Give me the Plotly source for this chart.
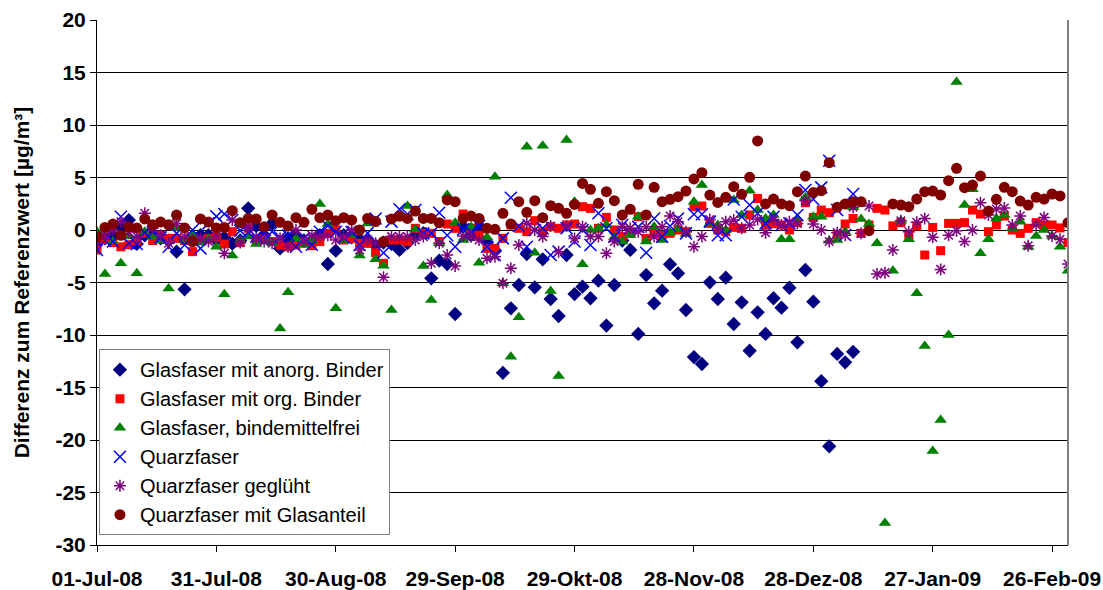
import datetime as dt
import plotly.graph_objects as go

# sampling: one measurement every 2 days starting 01-Jul-08
start = dt.date(2008, 7, 1)
days = list(range(0, 245, 2))

tick_days = [0, 30, 60, 90, 120, 150, 180, 210, 240]
tick_labels = ["01-Jul-08", "31-Jul-08", "30-Aug-08", "29-Sep-08", "29-Okt-08",
               "28-Nov-08", "28-Dez-08", "27-Jan-09", "26-Feb-09"]
y_ticks = [-30, -25, -20, -15, -10, -5, 0, 5, 10, 15, 20]

anorg_binder = [
    -1.2, -0.8, -0.5, 0.3, 0.95, -1.33, -0.5, -0.3, -0.8, -1.0, -2.06, -5.65, -1.0, -0.5, -0.5, -1.0,
    -0.7, -1.3, -1.0, 2.06, 0.38, -0.5, 0.63, -1.75, -0.8, -0.5, -1.0, -1.0, -0.5, -3.24, -1.97, -0.5,
    -0.7, -0.9, -1.0, -1.5, -1.2, -1.33, -1.9, -1.24, -0.5, -0.3, -4.6, -2.92, -3.24, -8.0, 0.29, -0.5,
    0.38, -1.2, -2.0, -13.6, -7.46, -5.24, -2.29, -5.46, -2.79, -6.57, -8.19, -2.38, -6.1, -5.4, -6.5,
    -4.83, -9.1, -5.24, -1.0, -1.9, -9.9, -4.29, -6.98, -5.78, -3.27, -4.13, -7.62, -12.1, -12.76, -4.98, -6.57,
    -4.54, -8.95, -6.89, -11.5, -7.84, -9.9, -6.5, -7.4, -5.5, -10.7, -3.81, -6.83, -14.4, -20.6, -11.8, -12.6,
    -11.6] + [None] * 27

org_binder = [
    -1.9, -0.9, -1.2, -1.6, -1.4, -1.0, -0.3, -1.0, -0.5, -0.8, -0.8, -1.0, -2.06, -1.0, -0.8, -0.7,
    -1.33, -0.16, -1.2, 0.16, -0.95, -0.8, -1.1, -1.43, -1.59, -1.43, -1.1, -1.49, -1.1, -0.32, 0.0, -0.95,
    -0.8, -1.27, -1.27, -2.16, -3.17, -0.95, -0.95, -1.1, 0.16, -0.32, -0.32, -1.1, 0.57, 0.16, 1.52, 0.16,
    -0.5, -1.75, -1.75, -0.8, 0.48, 0.16, -0.16, 0.89, -0.16, 0.32, 0.16, 0.48, 0.57, 2.22, 2.06,
    0.16, 1.2, 0.0, -0.63, -0.32, 1.27, -0.8, -0.32, -0.5, -0.32, 0.0, -0.16, 2.22, 2.28, 0.63, 0.0,
    -0.16, 0.25, 0.16, 1.43, 3.0, 0.48, 0.6, 0.48, 0.0, 0.7, 2.6, 1.2, 1.9, 1.65, -0.5, 0.57,
    1.1, -0.32, 0.48, 2.06, 1.9, 0.4, 0.7, -0.5, 0.38, -2.38, 0.25, -1.97, 0.63, 0.63, 0.7, 1.9,
    1.52, -0.16, 0.48, 1.33, 0.0, -0.32, 0.16, 0.7, 0.48, 0.48, 0.2, -1.2]

bindemittelfrei = [
    -0.16, -4.19, -1.1, -3.17, -0.63, -4.13, -0.16, -0.63, -1.0, -5.56, 0.16, -1.0, -0.5, -1.2, -0.8, -1.59,
    -6.13, -2.44, -1.0, -0.63, -1.33, -1.1, -1.2, -9.37, -5.94, -0.8, -1.43, -1.0, 2.48, 0.57, -7.46, -1.0,
    -0.5, -2.44, 0.63, -2.79, -3.4, -7.62, 1.1, 2.28, 0.06, -3.43, -6.67, -1.27, 3.33, 0.7, -0.95, 0.32,
    -3.11, -0.7, 5.08, -5.08, -12.06, -8.32, 7.94, -2.16, 8.03, -5.81, -13.9, 8.57, 2.7, -3.27, 0.0,
    0.16, 0.48, -0.7, -1.1, -0.48, 1.27, -1.1, 0.32, -0.95, -0.25, 0.16, -0.38, 2.7, 4.29, 0.63, 0.48,
    0.0, 2.86, 1.43, 3.75, 1.9, 1.1, 1.43, -0.89, -0.89, 1.1, 3.11, 1.27, 1.27, -1.02, -0.95, -0.16,
    2.16, 1.05, 0.57, -1.27, -27.9, -3.87, 0.89, -0.89, -6.03, -11.05, -21.05, -18.1, -10.0, 14.1, 2.38, 3.87,
    -2.22, -0.89, 1.1, 1.43, 0.16, 0.79, -1.59, -0.57, 0.0, -0.57, -1.59, -3.87]

quarzfaser = [
    -1.9, -1.0, -1.1, 1.27, -1.27, -1.33, -0.25, -0.16, -0.7, -1.59, -0.32, -1.43, 0.0, -1.75, 0.63, 1.3,
    1.52, 0.95, -0.06, -0.2, -0.63, -0.3, -0.16, -0.7, -0.5, -1.59, -0.8, -1.4, -0.16, 0.38, -0.16, -0.7,
    -0.2, -1.43, -0.3, 1.1, -2.16, 0.8, 1.97, 1.5, 1.9, -0.32, -0.32, 1.65, -0.5, -1.59, 0.06, -0.2,
    0.38, -1.59, -2.38, -0.8, 3.08, 0.38, -1.59, 0.0, 0.16, -2.38, -2.06, 0.16, -1.1, 0.0, -1.43,
    1.59, 0.16, -0.63, 0.48, 0.16, 0.3, -2.16, 1.1, -0.63, 0.38, 1.1, -0.32, 1.5, 1.5, 0.8, -0.5,
    -0.5, 2.9, 1.27, 2.38, 1.59, 0.63, 1.27, 0.48, 0.63, 1.43, 3.81, 2.92, 4.06, 6.6, 1.9, -0.48,
    3.43] + [None] * 27

quarz_gegluet = [
    -1.27, -0.5, 0.0, 0.79, -0.16, -0.6, 1.59, 0.16, -0.5, -1.27, 0.63, -0.63, -0.95, -0.8, -1.1, -0.63,
    -2.22, 0.95, -1.2, 0.3, -0.8, -1.1, -1.27, -0.8, -1.59, 0.0, -1.1, -0.5, -0.63, -0.5, -0.95, -0.63,
    0.0, -1.9, -0.95, -1.27, -4.5, -0.63, -0.63, -0.63, -0.95, -0.63, -3.17, -1.27, -2.38, -3.43, -0.57, -0.63,
    -0.95, -2.7, -2.54, -5.08, -3.65, -1.43, 0.63, 0.0, -0.63, 0.38, -2.06, 0.38, -0.8, 0.32, -0.63,
    -0.63, -2.22, -1.1, 0.3, 0.16, -0.16, 0.3, -0.63, 0.3, 1.33, 0.79, -0.16, -1.59, -0.63, 1.0, 0.16,
    0.79, 0.95, 0.16, 0.48, 1.0, -0.25, 1.0, 0.48, 0.79, 0.63, 2.79, 0.57, 0.0, -1.1, -0.25, -0.5,
    2.16, -0.32, 2.28, -4.19, -4.06, -1.9, 0.89, -0.16, 0.73, 1.1, -0.7, -3.75, -0.5, -0.06, -1.1, 0.0,
    2.6, 1.43, 2.0, 2.1, 0.48, 1.33, -1.5, 0.48, 1.2, -0.57, -0.89, -3.24]

quarz_glas = [
    -0.6, 0.25, 0.57, -0.5, 0.3, 0.2, 1.05, 0.5, 0.76, 0.5, 1.43, 0.2, -1.1, 1.05, 0.76, 0.2,
    0.25, 1.84, 0.7, 1.1, 1.05, 0.3, 1.43, 0.73, 0.38, 1.17, 0.73, 1.97, 1.17, 1.43, 0.89, 1.17,
    0.95, 0.0, 1.1, 0.8, -1.1, 1.05, 1.33, 1.1, 1.8, 1.1, 1.1, 0.7, 2.86, 2.7, 1.1, 1.33,
    1.1, 0.16, 0.06, 1.59, 0.57, 2.7, 1.68, 2.79, 1.17, 2.32, 2.06, 1.59, 2.44, 4.44, 3.87,
    2.54, 3.65, 2.79, 1.43, 1.97, 4.35, 1.43, 4.06, 2.7, 2.92, 3.17, 3.71, 4.86, 5.46, 3.33, 2.63,
    3.11, 4.13, 3.4, 5.02, 8.48, 2.48, 2.95, 2.48, 2.32, 3.65, 5.14, 3.56, 3.75, 6.41, 2.16, 2.48,
    2.7, 2.7, -0.06, None, None, 2.48, 2.38, 2.22, 2.95, 3.65, 3.71, 3.33, 4.7, 5.87, 4.03, 4.28,
    5.14, 1.8, 2.92, 4.06, 3.65, 2.76, 2.38, 3.11, 2.95, 3.43, 3.24, 0.7]

dates = [start + dt.timedelta(days=d) for d in days]
tick_dates = [start + dt.timedelta(days=d) for d in tick_days]

series = [
    ("Glasfaser mit anorg. Binder", anorg_binder, dict(symbol="diamond", size=11, color="#000080")),
    ("Glasfaser mit org. Binder", org_binder, dict(symbol="square", size=9, color="#FF0000")),
    ("Glasfaser, bindemittelfrei", bindemittelfrei, dict(symbol="triangle-up", size=11, color="#008000")),
    ("Quarzfaser", quarzfaser, dict(symbol="x-thin-open", size=12, color="#0000FF", line=dict(width=1.5, color="#0000FF"))),
    ("Quarzfaser geglüht", quarz_gegluet, dict(symbol="asterisk-open", size=10, color="#800080", line=dict(width=1.5, color="#800080"))),
    ("Quarzfaser mit Glasanteil", quarz_glas, dict(symbol="circle", size=11, color="#800000")),
]

fig = go.Figure()
for name, vals, marker in series:
    fig.add_trace(go.Scatter(x=dates, y=vals, mode="markers", name=name, marker=marker))

font_family = "Arial, Liberation Sans, sans-serif"

fig.update_layout(
    width=1103, height=590,
    margin=dict(l=97, r=35, t=20, b=45),
    paper_bgcolor="white",
    plot_bgcolor="white",
    font=dict(family=font_family, color="black"),
    legend=dict(
        x=0.002, y=0.373, xanchor="left", yanchor="top",
        bgcolor="white", bordercolor="#808080", borderwidth=1,
        font=dict(size=20, family=font_family),
        itemsizing="trace",
    ),
    xaxis=dict(
        range=[start, start + dt.timedelta(days=244.8)],
        tickvals=tick_dates, ticktext=["<b>%s</b>" % t for t in tick_labels],
        ticks="outside", ticklen=6, tickcolor="black",
        ticklabelstandoff=9,
        showline=True, linecolor="black", linewidth=1,
        showgrid=False, zeroline=False, automargin=False,
        tickfont=dict(size=21, family=font_family),
    ),
    yaxis=dict(
        range=[-30, 20],
        tickvals=y_ticks, ticktext=["<b>%d</b>" % v for v in y_ticks],
        ticks="outside", ticklen=6, tickcolor="black",
        showline=True, linecolor="black", linewidth=1,
        showgrid=True, gridcolor="black", gridwidth=1,
        zeroline=False, automargin=False,
        tickfont=dict(size=21, family=font_family),
        title=dict(text="<b>Differenz zum Referenzwert [µg/m³]</b>",
                   font=dict(size=21, family=font_family), standoff=20),
    ),
)

# right frame edge
fig.add_shape(type="line", xref="paper", yref="paper", x0=1, x1=1, y0=0, y1=1,
              line=dict(color="#808080", width=2))

# drop the default body margin so the figure fills the window exactly
fig.write_html("out.html", config={"displayModeBar": False},
               post_script="document.body.style.margin='0px';")
